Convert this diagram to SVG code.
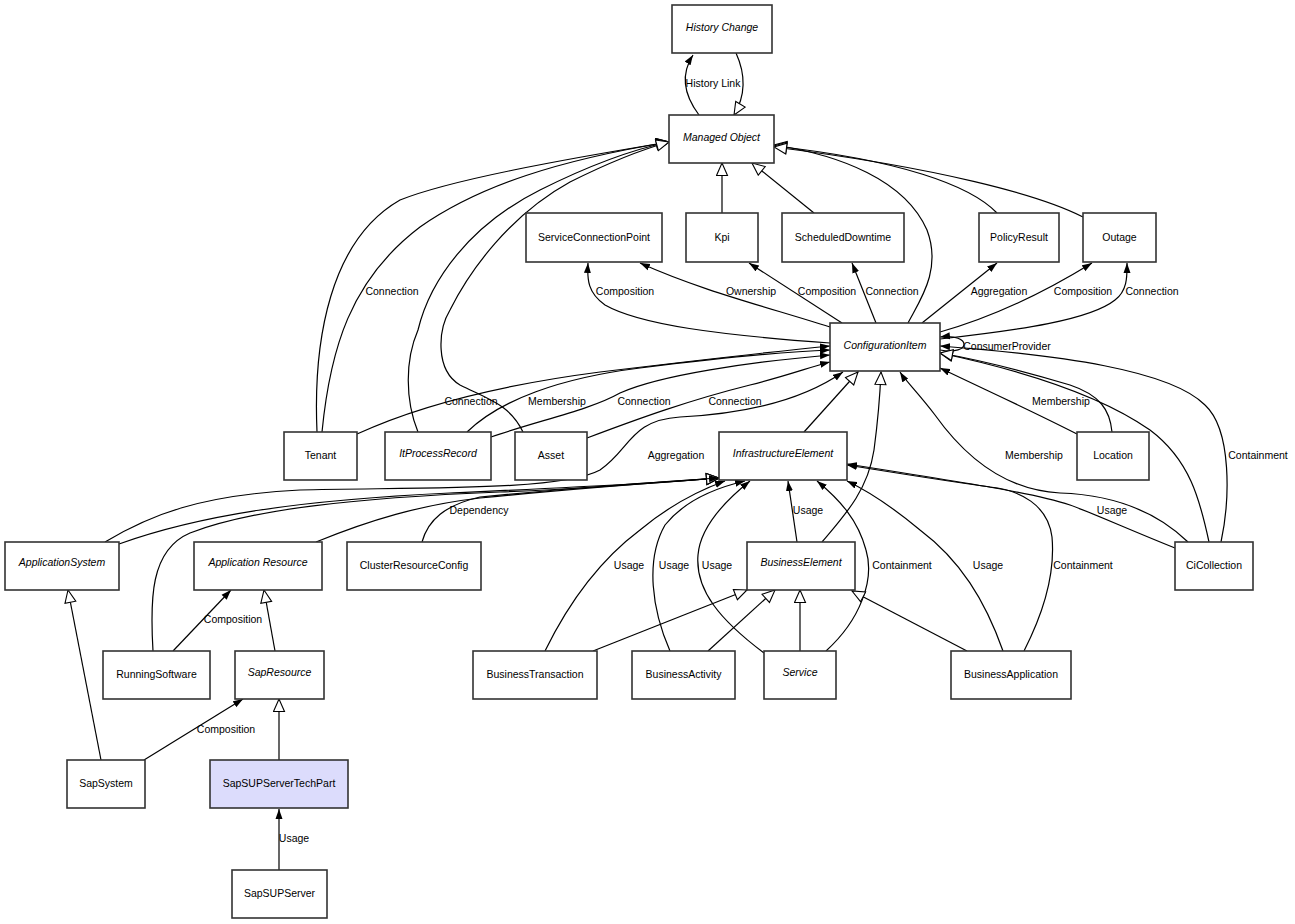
<svg xmlns="http://www.w3.org/2000/svg" width="1295" height="924" viewBox="0 0 1295 924">
<style>
.n rect{fill:#fff;stroke:#333;stroke-width:1.6}
.n text{font-family:"Liberation Sans",Arial,sans-serif;font-size:10.5px;text-anchor:middle;fill:#000}
.n text.i{font-style:italic}
.e path{fill:none;stroke:#000;stroke-width:1.2}
.e .a{marker-end:url(#fa)}
.e .g{marker-end:url(#ga)}
.l text{font-family:"Liberation Sans",Arial,sans-serif;font-size:10.5px;text-anchor:middle;fill:#000}
</style>
<defs>
<marker id="fa" markerUnits="userSpaceOnUse" markerWidth="11" markerHeight="8" refX="10" refY="4" orient="auto"><path d="M0,0.5 L10,4 L0,7.5 z" fill="#000"/></marker>
<marker id="ga" markerUnits="userSpaceOnUse" markerWidth="15" markerHeight="13" refX="13.5" refY="6.5" orient="auto"><path d="M1,1 L13.5,6.5 L1,12 z" fill="#fff" stroke="#000" stroke-width="1.1"/></marker>
</defs>
<rect width="1295" height="924" fill="#fff"/>
<g class="e" id="connectors">
<path class="a" d="M699,115 C684,95 680,75 693,55"/>
<path class="g" d="M736,53 C746,75 746,95 734,115"/>
<path class="g" d="M722,213 L722,163"/>
<path class="g" d="M814,213 L752,163"/>
<path class="g" d="M317,432 C313,340 330,240 400,200 C450,180 560,160 669,142"/>
<path class="g" d="M322,432 C330,350 350,280 420,227 C480,185 560,160 669,142"/>
<path class="g" d="M418,432 C405,400 405,360 418,330 C430,280 470,225 540,190 C590,165 630,150 669,142"/>
<path class="g" d="M523,432 C510,405 490,400 460,385 C435,370 438,330 450,310 C470,270 510,215 570,182 C610,162 640,150 669,142"/>
<path class="g" d="M908,323 C920,300 942,270 927,230 C905,180 840,155 774,145"/>
<path class="g" d="M997,213 C970,185 900,160 774,146"/>
<path class="g" d="M1083,217 C1040,195 940,168 774,147"/>
<path class="a" d="M830,343 C720,335 640,325 605,305 C588,293 587,280 588,263"/>
<path class="a" d="M830,327 C760,305 700,290 640,263"/>
<path class="a" d="M842,323 L749,263"/>
<path class="a" d="M876,323 L852,263"/>
<path class="a" d="M922,323 L997,263"/>
<path class="a" d="M940,332 C990,318 1040,295 1092,263"/>
<path class="a" d="M940,339 C1020,330 1090,320 1115,300 C1128,290 1127,275 1127,263"/>
<path class="a" d="M940,350 C972,356 972,333 940,337"/>
<path class="a" d="M357,434 C420,405 500,385 600,372 C700,360 770,352 830,346"/>
<path class="a" d="M467,432 C500,400 560,378 640,368 C720,358 780,352 830,350"/>
<path class="a" d="M491,437 C540,420 590,410 620,393 C660,375 750,362 830,355"/>
<path class="a" d="M587,438 C640,418 690,400 750,385 C790,375 810,367 830,362"/>
<path class="a" d="M105,542 C150,515 200,495 300,490 C400,487 560,492 600,470 C630,450 630,420 680,417 C760,413 810,395 843,372"/>
<path class="g" d="M119,544 C200,515 300,500 450,493 C560,488 650,484 719,478"/>
<path class="g" d="M316,542 C370,520 420,505 480,498 C580,488 650,483 719,478"/>
<path class="g" d="M153,651 C150,600 150,550 190,533 C250,510 350,498 500,492 C600,488 670,482 719,478"/>
<path class="a" d="M422,542 C428,520 445,505 480,497 C580,487 660,482 719,478"/>
<path class="a" d="M545,651 C570,600 600,560 640,530 C670,505 700,490 725,481"/>
<path class="a" d="M670,651 C652,610 645,560 665,525 C685,500 715,488 745,481"/>
<path class="a" d="M764,653 C720,620 695,590 698,555 C700,530 720,505 750,481"/>
<path class="a" d="M797,542 L788,481"/>
<path class="a" d="M826,651 C860,620 875,580 866,550 C858,520 840,500 817,481"/>
<path class="a" d="M1003,651 C985,600 960,560 920,530 C890,505 870,492 847,481"/>
<path class="a" d="M1024,651 C1045,610 1055,570 1052,537 C1048,505 1020,490 990,487 C940,480 890,472 847,465"/>
<path class="a" d="M1175,548 C1130,530 1090,512 1070,505 C1040,495 1000,488 847,464"/>
<path class="a" d="M1188,542 C1160,515 1120,495 1060,493 C1000,490 960,450 935,415 C920,395 905,380 900,372"/>
<path class="g" d="M1209,542 C1200,500 1190,460 1150,430 C1100,395 1020,370 940,353"/>
<path class="a" d="M1221,542 C1230,500 1232,430 1205,405 C1170,370 1060,355 940,346"/>
<path class="a" d="M1077,434 C1030,410 990,392 940,368"/>
<path class="g" d="M1112,432 C1110,410 1100,395 1070,385 C1020,370 980,360 940,353"/>
<path class="g" d="M804,432 L858,372"/>
<path class="g" d="M822,542 C845,515 868,490 874,450 C878,420 880,395 881,372"/>
<path class="g" d="M593,651 L747,590"/>
<path class="g" d="M708,651 L775,590"/>
<path class="g" d="M800,651 L800,590"/>
<path class="g" d="M967,651 L852,591"/>
<path class="g" d="M101,760 L68,590"/>
<path class="a" d="M173,651 L231,590"/>
<path class="g" d="M275,651 L264,590"/>
<path class="a" d="M144,760 L243,699"/>
<path class="g" d="M279,760 L279,699"/>
<path class="a" d="M279,870 L279,809"/>
</g>
<g class="l" id="labels">
<text x="713" y="87">History Link</text>
<text x="392" y="295">Connection</text>
<text x="625" y="295">Composition</text>
<text x="751" y="295">Ownership</text>
<text x="827" y="295">Composition</text>
<text x="892" y="295">Connection</text>
<text x="999" y="295">Aggregation</text>
<text x="1083" y="295">Composition</text>
<text x="1152" y="295">Connection</text>
<text x="1007" y="350">ConsumerProvider</text>
<text x="471" y="405">Connection</text>
<text x="557" y="405">Membership</text>
<text x="644" y="405">Connection</text>
<text x="735" y="405">Connection</text>
<text x="1061" y="405">Membership</text>
<text x="676" y="459">Aggregation</text>
<text x="1034" y="459">Membership</text>
<text x="1258" y="459">Containment</text>
<text x="479" y="514">Dependency</text>
<text x="808" y="514">Usage</text>
<text x="1112" y="514">Usage</text>
<text x="629" y="569">Usage</text>
<text x="674" y="569">Usage</text>
<text x="717" y="569">Usage</text>
<text x="902" y="569">Containment</text>
<text x="988" y="569">Usage</text>
<text x="1083" y="569">Containment</text>
<text x="233" y="623">Composition</text>
<text x="226" y="733">Composition</text>
<text x="294" y="842">Usage</text>
</g>
<g class="n" id="HistoryChange"><rect x="672" y="5" width="100" height="48"/><text class="i" x="722" y="30.5">History Change</text></g>
<g class="n" id="ManagedObject"><rect x="669" y="115" width="105" height="48"/><text class="i" x="721.5" y="140.5">Managed Object</text></g>
<g class="n" id="ServiceConnectionPoint"><rect x="526" y="213" width="136" height="49"/><text x="594" y="240.5">ServiceConnectionPoint</text></g>
<g class="n" id="Kpi"><rect x="686" y="213" width="72" height="49"/><text x="722" y="240.5">Kpi</text></g>
<g class="n" id="ScheduledDowntime"><rect x="782" y="213" width="122" height="49"/><text x="843" y="240.5">ScheduledDowntime</text></g>
<g class="n" id="PolicyResult"><rect x="979" y="213" width="80" height="49"/><text x="1019" y="240.5">PolicyResult</text></g>
<g class="n" id="Outage"><rect x="1083" y="213" width="73" height="49"/><text x="1119.5" y="240.5">Outage</text></g>
<g class="n" id="ConfigurationItem"><rect x="830" y="323" width="110" height="48"/><text class="i" x="885" y="348.5">ConfigurationItem</text></g>
<g class="n" id="Tenant"><rect x="284" y="432" width="73" height="48"/><text x="320.5" y="458.5">Tenant</text></g>
<g class="n" id="ItProcessRecord"><rect x="385" y="432" width="106" height="48"/><text class="i" x="438" y="457">ItProcessRecord</text></g>
<g class="n" id="Asset"><rect x="515" y="432" width="72" height="48"/><text x="551" y="458.5">Asset</text></g>
<g class="n" id="InfrastructureElement"><rect x="719" y="432" width="128" height="48"/><text class="i" x="783" y="457">InfrastructureElement</text></g>
<g class="n" id="Location"><rect x="1077" y="432" width="72" height="48"/><text x="1113" y="458.5">Location</text></g>
<g class="n" id="ApplicationSystem"><rect x="5" y="542" width="114" height="48"/><text class="i" x="62" y="566">ApplicationSystem</text></g>
<g class="n" id="ApplicationResource"><rect x="194" y="542" width="128" height="48"/><text class="i" x="258" y="566">Application Resource</text></g>
<g class="n" id="ClusterResourceConfig"><rect x="347" y="542" width="134" height="48"/><text x="414" y="568.5">ClusterResourceConfig</text></g>
<g class="n" id="BusinessElement"><rect x="747" y="542" width="108" height="48"/><text class="i" x="801" y="566">BusinessElement</text></g>
<g class="n" id="CiCollection"><rect x="1175" y="542" width="78" height="48"/><text x="1214" y="568.5">CiCollection</text></g>
<g class="n" id="RunningSoftware"><rect x="103" y="651" width="107" height="48"/><text x="156.5" y="677.5">RunningSoftware</text></g>
<g class="n" id="SapResource"><rect x="235" y="651" width="89" height="48"/><text class="i" x="279.5" y="676">SapResource</text></g>
<g class="n" id="BusinessTransaction"><rect x="473" y="651" width="124" height="48"/><text x="535" y="677.5">BusinessTransaction</text></g>
<g class="n" id="BusinessActivity"><rect x="632" y="651" width="103" height="48"/><text x="683.5" y="677.5">BusinessActivity</text></g>
<g class="n" id="Service"><rect x="764" y="651" width="72" height="48"/><text class="i" x="800" y="676">Service</text></g>
<g class="n" id="BusinessApplication"><rect x="951" y="651" width="120" height="48"/><text x="1011" y="677.5">BusinessApplication</text></g>
<g class="n" id="SapSystem"><rect x="67" y="760" width="78" height="48"/><text x="106" y="786.5">SapSystem</text></g>
<g class="n" id="SapSUPServerTechPart"><rect x="210" y="760" width="138" height="48" style="fill:#dcdcfc"/><text x="279" y="786.5">SapSUPServerTechPart</text></g>
<g class="n" id="SapSUPServer"><rect x="232" y="870" width="95" height="48"/><text x="279.5" y="896.5">SapSUPServer</text></g>
</svg>
